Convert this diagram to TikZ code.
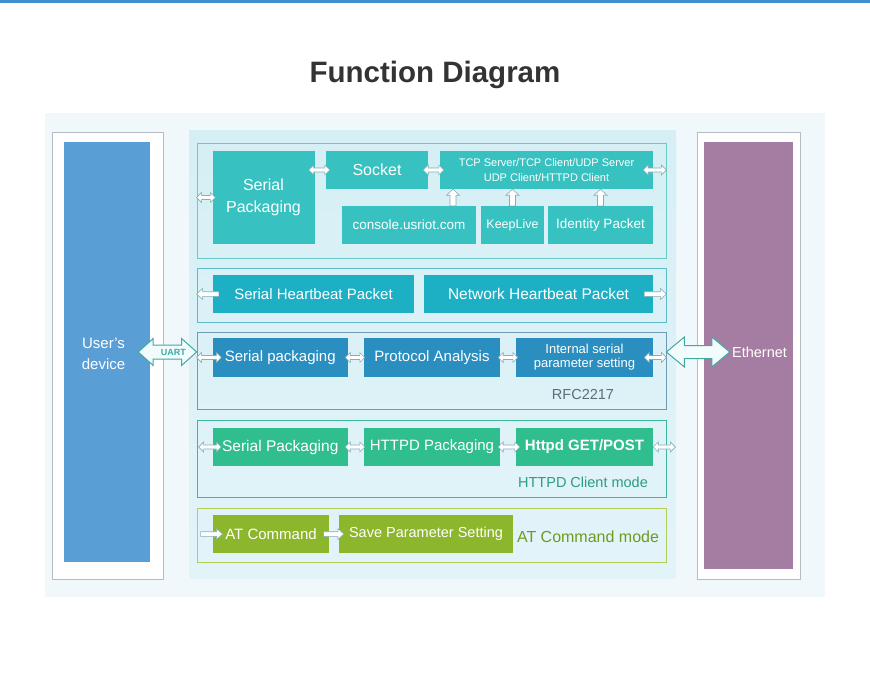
\documentclass[tikz,border=0pt]{standalone}
\usepackage{fontspec}
\setmainfont{Liberation Sans}
\usetikzlibrary{calc}
\definecolor{topblue}{HTML}{3C8FD0}
\definecolor{pagebg}{HTML}{F1F8FB}
\definecolor{paneltop}{HTML}{D5EFF5}
\definecolor{panelbot}{HTML}{E3F4F9}
\definecolor{sidegray}{HTML}{B4BCC4}
\definecolor{devblue}{HTML}{5A9ED6}
\definecolor{netpurple}{HTML}{A57CA2}
\definecolor{tealbox}{HTML}{37C1C0}
\definecolor{cyanbox}{HTML}{1DAFC4}
\definecolor{bluebox}{HTML}{2B8EC0}
\definecolor{greenbox}{HTML}{30BE8E}
\definecolor{olivebox}{HTML}{8CB62B}
\definecolor{tealline}{HTML}{68CCC5}
\definecolor{cyanline}{HTML}{5FBAC8}
\definecolor{blueline}{HTML}{6F9CB0}
\definecolor{greenline}{HTML}{3CB89B}
\definecolor{oliveline}{HTML}{B3CF58}
\definecolor{arrowgray}{HTML}{86AEB6}
\definecolor{arrowteal}{HTML}{3FA9A2}
\definecolor{arrowfill}{HTML}{F2FCFC}
\definecolor{rfcgray}{HTML}{5A6E7A}
\definecolor{modegreen}{HTML}{2C9C82}
\definecolor{atgreen}{HTML}{6E9A22}
\tikzset{
 blk/.style={inner sep=0,text=white,align=center,font=\fontsize{15}{17}\selectfont},
 tealblk/.style={blk,fill=tealbox},
 cyanblk/.style={blk,fill=cyanbox},
 blueblk/.style={blk,fill=bluebox},
 greenblk/.style={blk,fill=greenbox},
 oliveblk/.style={blk,fill=olivebox},
 rowframe/.style={draw=#1,line width=.8pt,minimum width=469,inner sep=0},
 sidebox/.style={draw=sidegray,fill=white,line width=.8pt,inner sep=0},
 sidetxt/.style={text=white,align=center,font=\fontsize{15}{21}\selectfont},
 tinyarrow/.style={draw=arrowgray,fill=white,line width=.6pt,line join=miter},
 bigarrow/.style={draw=arrowteal,fill=arrowfill,line width=1pt,line join=miter},
 note/.style={font=\fontsize{14.5}{17}\selectfont}
}
\newcommand\bothways[6][]{%
 \filldraw[#1] let \p1=(#2),\p2=(#3),\n1={atan2(\y2-\y1,\x2-\x1)},\n2={veclen(\x2-\x1,\y2-\y1)} in
  {[shift={(\p1)},rotate=\n1] (0,0) -- (#6,#5) -- (#6,#4) -- (\n2-#6,#4) -- (\n2-#6,#5) -- (\n2,0)
   -- (\n2-#6,-#5) -- (\n2-#6,-#4) -- (#6,-#4) -- (#6,-#5) -- cycle};}
\newcommand\oneway[6][]{%
 \filldraw[#1] let \p1=(#2),\p2=(#3),\n1={atan2(\y2-\y1,\x2-\x1)},\n2={veclen(\x2-\x1,\y2-\y1)} in
  {[shift={(\p1)},rotate=\n1] (0,#4) -- (\n2-#6,#4) -- (\n2-#6,#5) -- (\n2,0)
   -- (\n2-#6,-#5) -- (\n2-#6,-#4) -- (0,-#4) -- cycle};}

\begin{document}
\begin{tikzpicture}[x=1pt,y=-1pt]
\useasboundingbox (0,0) rectangle (870,672);
\fill[topblue] (0,0) rectangle (870,2.5);
\node[font=\fontsize{29.5}{32}\selectfont\bfseries,text=black!80] (title) at (435,75) {Function Diagram};
\fill[pagebg] (45,113) rectangle (825,597);
\shade[top color=paneltop,bottom color=panelbot] (189,130) rectangle (676,578);

\node[sidebox,minimum width=111,minimum height=447] (dev) at (107.5,355.5) {};
\node[fill=devblue,inner sep=0,minimum width=86,minimum height=420] (devin) at (107,352) {};
\node[sidetxt] (devtxt) at (103.5,354) {User's\\device};
\node[sidebox,minimum width=103,minimum height=447] (net) at (748.5,355.5) {};
\node[fill=netpurple,inner sep=0,minimum width=89,minimum height=427] (netin) at (748.5,355.5) {};

\node[rowframe=tealline,minimum height=115] (r1) at (431.5,200.5) {};
\node[rowframe=cyanline,minimum height=54] (r2) at (431.5,295) {};
\node[rowframe=blueline,minimum height=77] (r3) at (431.5,370.5) {};
\node[rowframe=greenline,minimum height=77] (r4) at (431.5,458.5) {};
\node[rowframe=oliveline,minimum height=54] (r5) at (431.5,535) {};

\node[tealblk,minimum width=102,minimum height=93,font=\fontsize{16}{22}\selectfont] (sp) at (263.5,197.5) {Serial\\Packaging};
\node[tealblk,minimum width=102,minimum height=38,font=\fontsize{16}{18}\selectfont] (sock) at (377,170) {Socket};
\node[tealblk,minimum width=213,minimum height=38,font=\fontsize{11}{15}\selectfont] (tcp) at (546.5,170) {TCP Server/TCP Client/UDP Server\\UDP Client/HTTPD Client};
\node[tealblk,minimum width=134,minimum height=38,font=\fontsize{13.5}{16}\selectfont] (cons) at (409,225) {console.usriot.com};
\node[tealblk,minimum width=63,minimum height=38,font=\fontsize{12.5}{16}\selectfont] (keep) at (512.5,225) {KeepLive};
\node[tealblk,minimum width=105,minimum height=38,font=\fontsize{13.5}{16}\selectfont] (ident) at (600.5,225) {Identity Packet};

\node[cyanblk,minimum width=201,minimum height=38] (shb) at (313.5,294) {Serial Heartbeat Packet};
\node[cyanblk,minimum width=229,minimum height=38,font=\fontsize{15.5}{17}\selectfont] (nhb) at (538.5,294) {Network Heartbeat Packet};

\node[blueblk,minimum width=135.5,minimum height=39] (spk) at (280.25,357.5) {Serial packaging};
\node[blueblk,minimum width=136,minimum height=39] (pa) at (432,357.5) {Protocol Analysis};
\node[blueblk,minimum width=137,minimum height=39,font=\fontsize{13}{14}\selectfont] (isp) at (584.5,357.5) {Internal serial\\parameter setting};
\node[note,text=rfcgray] (rfc) at (583,395) {RFC2217};

\node[greenblk,minimum width=135.5,minimum height=38,font=\fontsize{15.5}{17}\selectfont] (sp4) at (280.25,447) {Serial Packaging};
\node[greenblk,minimum width=136,minimum height=38] (hp) at (432,447) {HTTPD Packaging};
\node[greenblk,minimum width=137,minimum height=38,font=\fontsize{15}{17}\selectfont\bfseries] (get) at (584.5,447) {Httpd GET/POST};
\node[note,text=modegreen] (mode4) at (583,482) {HTTPD Client mode};

\node[oliveblk,minimum width=116.5,minimum height=38] (at) at (271,534) {AT Command};
\node[oliveblk,minimum width=174,minimum height=38,font=\fontsize{14.5}{17}\selectfont] (save) at (426,534) {Save Parameter Setting};
\node[font=\fontsize{16}{18}\selectfont,text=atgreen] (mode5) at (588,537) {AT Command mode};

\bothways[tinyarrow]{r1.west |- sp.west}{$(sp.west)+(3,0)$}{2}{5}{5}
\bothways[tinyarrow]{$(sp.east |- sock.west)+(-6,0)$}{$(sock.west)+(4,0)$}{2}{5}{5}
\bothways[tinyarrow]{$(sock.east)+(-5,0)$}{$(tcp.west)+(4,0)$}{2}{5}{5}
\bothways[tinyarrow]{$(tcp.east)+(-10,0)$}{r1.east |- tcp.east}{2}{5}{5}
\coordinate (u1) at ($(cons.north)+(44,0)$);
\oneway[tinyarrow]{u1}{u1 |- tcp.south}{3}{6.5}{6}
\oneway[tinyarrow]{keep.north}{keep.north |- tcp.south}{3}{6.5}{6}
\oneway[tinyarrow]{ident.north}{ident.north |- tcp.south}{3}{6.5}{6}

\oneway[tinyarrow]{$(shb.west)+(6,0)$}{r2.west |- shb.west}{2.3}{5.5}{6}
\oneway[tinyarrow]{$(nhb.east)+(-9,0)$}{r2.east |- nhb.east}{2.3}{5.5}{6}

\bothways[tinyarrow]{r3.west |- spk.west}{$(spk.west)+(9,0)$}{2}{5}{5}
\bothways[tinyarrow]{$(spk.east)+(-3,0)$}{$(pa.west)+(1,0)$}{2}{5}{5}
\bothways[tinyarrow]{$(pa.east)+(-2,0)$}{$(isp.west)+(2,0)$}{2}{5}{5}
\bothways[tinyarrow]{$(isp.east)+(-9,0)$}{r3.east |- isp.east}{2}{5}{5}

\bothways[tinyarrow]{$(r4.west |- sp4.west)+(2,0)$}{$(sp4.west)+(9,0)$}{2}{5}{5}
\bothways[tinyarrow]{$(sp4.east)+(-3,0)$}{$(hp.west)+(1,0)$}{2}{5}{5}
\bothways[tinyarrow]{$(hp.east)+(-2,0)$}{$(get.west)+(4,0)$}{2}{5}{5}
\bothways[tinyarrow]{get.east}{$(r4.east |- get.east)+(9,0)$}{2}{5}{5}

\oneway[tinyarrow]{$(r5.west |- at.west)+(4,0)$}{$(at.west)+(10,0)$}{2.3}{5.5}{6}
\oneway[tinyarrow]{$(at.east)+(-6,0)$}{$(save.west)+(5,0)$}{2.3}{5.5}{6}

\bothways[bigarrow]{$(devin.east)+(-12,0)$}{r3.west |- devin.east}{7}{13.5}{15}
\node[font=\fontsize{9}{10}\selectfont\bfseries,text=arrowteal] (uart) at ($(devin.east)!.5!(r3.west |- devin.east)$) {UART};
\coordinate (ethend) at ($(netin.west |- devin.east)+(26,0)$);
\bothways[bigarrow]{r3.east |- devin.east}{ethend}{6.5}{15}{18}
\node[sidetxt,font=\fontsize{14.5}{17}\selectfont] (ethtxt) at (759.5,352) {Ethernet};
\end{tikzpicture}
\end{document}
